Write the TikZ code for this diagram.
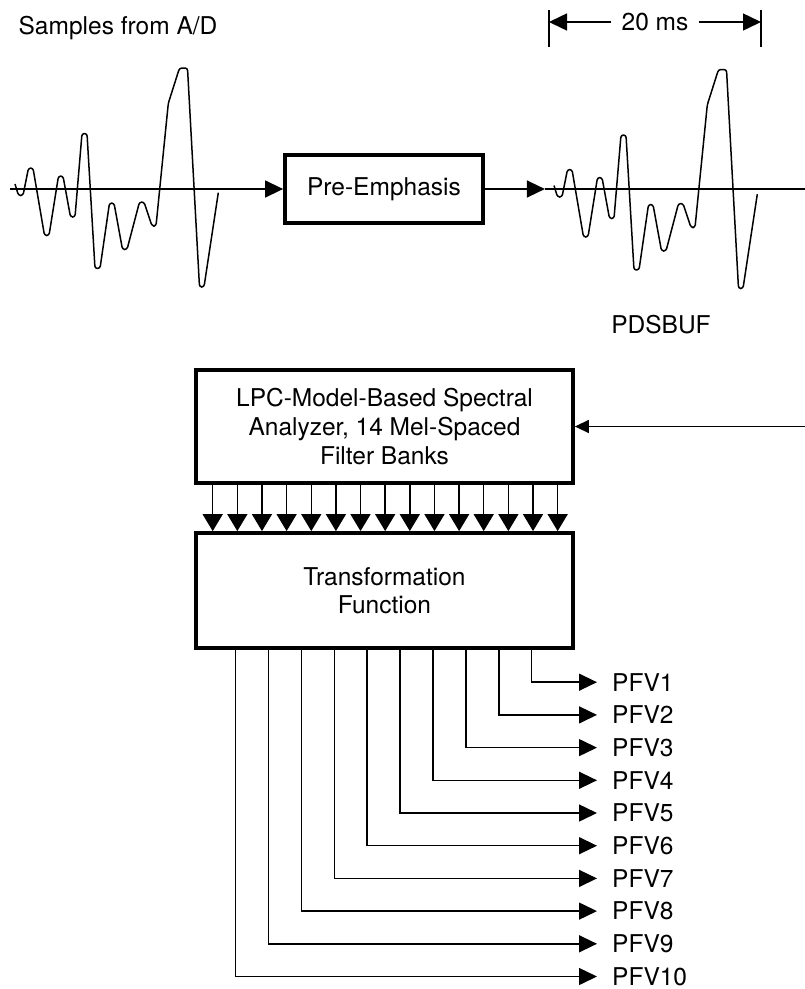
\documentclass[tikz,border=0pt]{standalone}
\usepackage{fontspec}
\setmainfont{TeX Gyre Heros}
\usetikzlibrary{arrows.meta}
\begin{document}
\begin{tikzpicture}[x=1pt,y=-1pt,
  lbl/.style={font=\fontsize{24.5pt}{28pt}\selectfont, inner sep=0pt, align=center},
  blk/.style={draw, line width=3.8pt, inner sep=0pt, align=center, font=\fontsize{24.5pt}{28pt}\selectfont},
  thin/.style={line width=1.5pt},
  arr/.style={thin, -{Triangle[length=18pt,width=17pt]}},
  inarr/.style={thin, -{Triangle[length=14pt,width=13pt]}},
  sarr/.style={thin, -{Triangle[length=17pt,width=20pt]}},
  wave/.style={line width=1.5pt, rounded corners=2.5pt, line join=round}
]
\useasboundingbox (0,0) rectangle (805,989);

% ---- top labels
\node[lbl] (samples) at (118,28) {Samples from A/D};
\node[lbl, inner xsep=10pt] (ms) at (655,22) {20 ms};
\node[lbl] (pdsbuf) at (661,325) {PDSBUF};

% ---- 20 ms dimension
\coordinate (tlTop) at (549,10); \coordinate (tlBot) at (549,47);
\coordinate (trTop) at (761,10); \coordinate (trBot) at (761,47);
\draw[thin] (tlTop) -- (tlBot);
\draw[thin] (trTop) -- (trBot);
\draw[arr] (ms.west) -- (tlTop |- ms.west);
\draw[arr] (ms.east) -- (trTop |- ms.east);

% ---- pre-emphasis
\node[blk, minimum width=198pt, minimum height=68pt] (pre) at (384,189) {Pre-Emphasis};
\coordinate (axL) at (10,189);
\draw[arr] (axL) -- (pre.west);
\draw[arr] (pre.east) -- ++(60,0) coordinate (axR);
\coordinate (axEnd) at (805,189);
\draw[thin] (axR) -- (axEnd);

% ---- waveforms
\newcommand{\wavepath}{%
  (15,184) -- (18.5,195.5) -- (23,195.5) -- (28.5,168) -- (33,168) -- (44.5,235.5) -- (49,235.5)
  -- (58.5,176) -- (63,176) -- (70.5,217) -- (75,217) -- (82,133.5) -- (87,133.5)
  -- (95,268.5) -- (100,268.5) -- (109.5,203) -- (114,203) -- (122.5,249.5) -- (127,249.5)
  -- (139.5,202) -- (144,202) -- (152,226) -- (156,226) -- (168.3,103.3) -- (179.5,68)
  -- (187.5,68) -- (199.5,287) -- (204,287) -- (218.3,192.7)}
\draw[wave] \wavepath;
\begin{scope}[shift={(539,1.5)}]
\draw[wave] \wavepath;
\end{scope}

% ---- analyzer and transformation
\node[blk, minimum width=377pt, minimum height=113pt] (lpc) at (384.5,426.5)
  {LPC-Model-Based Spectral\\[1pt] Analyzer, 14 Mel-Spaced\\[1pt] Filter Banks};
\node[blk, minimum width=377pt, minimum height=115pt] (trans) at (384.5,590.5)
  {Transformation\\ Function};

\coordinate (rin) at (805,426.5);
\draw[inarr] (rin) -- (lpc.east);

\foreach \i in {0,...,14}{
  \pgfmathsetmacro{\xx}{212.7+24.64*\i}
  \draw[sarr] (\xx,0 |- lpc.south) -- (\xx,0 |- trans.north);
}

% ---- outputs
\foreach \i in {1,...,10}{
  \pgfmathsetmacro{\xx}{531.7-32.9*(\i-1)}
  \pgfmathsetmacro{\yy}{680.7+32.7*(\i-1)}
  \node[lbl, anchor=west, inner xsep=15pt, inner ysep=0pt] (pfv\i) at (597,\yy+1.5) {PFV\i};
  \draw[arr] (\xx,0 |- trans.south) |- (pfv\i.west);
}
\end{tikzpicture}
\end{document}
